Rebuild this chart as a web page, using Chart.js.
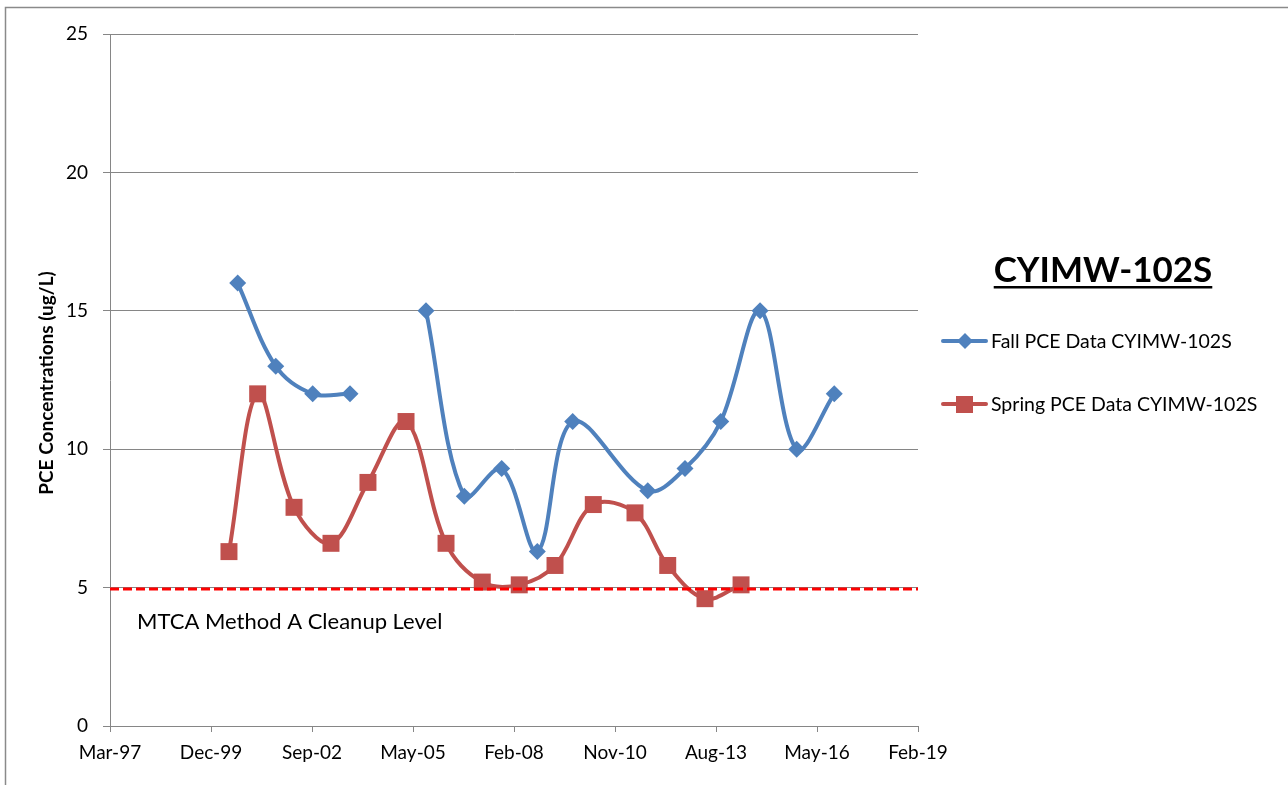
<!DOCTYPE html>
<html>
<head>
<meta charset="utf-8">
<script src="https://cdn.jsdelivr.net/npm/chart.js@4.4.1/dist/chart.umd.min.js"></script>
<style>
html,body{margin:0;padding:0;background:#fff;overflow:hidden;}
#wrap{position:relative;width:1288px;height:785px;}
canvas{display:block;}
</style>
</head>
<body>
<div id="wrap"><canvas id="c" width="1288" height="785"></canvas></div>
<script>
// ---- data ----
const chartTitle = "CYIMW-102S";
const yAxisTitle = "PCE Concentrations (ug/L)";
const cleanupLabel = "MTCA Method A Cleanup Level";
const fallLabel = "Fall PCE Data CYIMW-102S";
const springLabel = "Spring PCE Data CYIMW-102S";

const fallDates = ["2000-08-26","2001-09-07","2002-09-08","2003-09-12","2004-09-15","2005-10-04","2006-10-18","2007-10-23","2008-10-10","2009-09-25","2011-10-08","2012-10-11","2013-09-30","2014-10-24","2015-10-22","2016-10-28"];
const fallValues = [16, 13, 12, 12, null, 15, 8.3, 9.3, 6.3, 11, 8.5, 9.3, 11, 15, 10, 12];

const springDates = ["2000-06-01","2001-03-12","2002-03-07","2003-03-08","2004-03-08","2005-03-20","2006-04-20","2007-04-14","2008-04-14","2009-04-03","2010-04-17","2011-06-04","2012-04-23","2013-04-27","2014-04-19"];
const springValues = [6.3, 12, 7.9, 6.6, 8.8, 11, 6.6, 5.2, 5.1, 5.8, 8.0, 7.7, 5.8, 4.6, 5.1];

const cleanupLevel = 4.95;
const xMin = 35500, xMax = 43500, xStep = 1000; // Excel date serials (Mar-97 .. Feb-19)
const yMin = 0, yMax = 25, yStep = 5;
const monthNames = ["Jan","Feb","Mar","Apr","May","Jun","Jul","Aug","Sep","Oct","Nov","Dec"];

// ---- helpers ----
function toSerial(s){ const p=s.split("-").map(Number); return Date.UTC(p[0],p[1]-1,p[2])/86400000 + 25569; }
function serialLabel(v){ const d=new Date((v-25569)*86400000); return monthNames[d.getUTCMonth()]+"-"+String(d.getUTCFullYear()%100).padStart(2,"0"); }
function pts(dates, vals){ return dates.map((d,i)=>({x:toSerial(d), y:vals[i]})); }

const FONT = "Lato, 'Open Sans', sans-serif";
const BLUE = "#4F81BD", RED = "#C0504D";

const overlay = {
  id:'overlay',
  beforeDraw(chart){
    const ctx = chart.ctx;
    ctx.save();
    ctx.fillStyle="#fff"; ctx.fillRect(0,0,chart.width,chart.height);
    ctx.strokeStyle="#8a8a8a"; ctx.lineWidth=1.5;
    ctx.beginPath(); ctx.moveTo(5.5,chart.height+5); ctx.lineTo(5.5,7.5); ctx.lineTo(chart.width+5,7.5); ctx.stroke();
    ctx.restore();
  },
  afterDraw(chart){
    const ctx = chart.ctx;
    ctx.save();
    // y axis title
    ctx.fillStyle="#000";
    ctx.font = "bold 19px "+FONT;
    ctx.textAlign="center"; ctx.textBaseline="middle";
    ctx.translate(47, 383); ctx.rotate(-Math.PI/2);
    ctx.fillText(yAxisTitle,0,0);
    ctx.setTransform(1,0,0,1,0,0);
    // cleanup annotation
    ctx.font = "22px "+FONT; ctx.textAlign="left"; ctx.textBaseline="alphabetic";
    ctx.fillText(cleanupLabel, 137, 629);
    // chart title
    ctx.font = "bold 35px "+FONT; ctx.textAlign="left";
    const tw = ctx.measureText(chartTitle).width;
    const tx = 1103 - tw/2;
    ctx.fillText(chartTitle, tx, 282);
    ctx.fillRect(tx, 286, tw, 2.5);
    // legend
    const items = [{t:fallLabel,c:BLUE,y:341,shape:'diamond'},{t:springLabel,c:RED,y:404,shape:'square'}];
    ctx.font = "19.5px "+FONT; ctx.textBaseline="middle";
    items.forEach(it=>{
      ctx.strokeStyle=it.c; ctx.lineWidth=4; ctx.lineCap="round";
      ctx.beginPath(); ctx.moveTo(943,it.y); ctx.lineTo(986,it.y); ctx.stroke();
      ctx.fillStyle=it.c;
      ctx.beginPath();
      if(it.shape==='diamond'){ ctx.moveTo(965,it.y-8); ctx.lineTo(973,it.y); ctx.lineTo(965,it.y+8); ctx.lineTo(957,it.y); ctx.closePath(); }
      else { ctx.rect(956,it.y-8,17,17); }
      ctx.fill();
      ctx.fillStyle="#000";
      ctx.fillText(it.t, 991, it.y+1);
    });
    ctx.restore();
  }
};

new Chart(document.getElementById('c'), {
  type:'line',
  data:{
    datasets:[
      {label:fallLabel, data:pts(fallDates,fallValues), borderColor:BLUE, backgroundColor:BLUE, borderWidth:4,
       pointStyle:'rectRot', pointRadius:8.5, pointBorderWidth:0, tension:0.35, spanGaps:false, order:2},
      {label:springLabel, data:pts(springDates,springValues), borderColor:RED, backgroundColor:RED, borderWidth:4,
       pointStyle:'rect', pointRadius:12, pointBorderWidth:0, tension:0.35, order:3},
      {label:cleanupLabel, data:[{x:xMin,y:cleanupLevel},{x:xMax,y:cleanupLevel}], borderColor:"#FF0000", borderWidth:3,
       borderDash:[9,4], pointRadius:0, tension:0, order:1}
    ]
  },
  options:{
    responsive:false, animation:false, devicePixelRatio:1,
    layout:{padding:{left:0,right:370,top:34,bottom:0}},
    plugins:{legend:{display:false}, tooltip:{enabled:false}},
    elements:{line:{capBezierPoints:false}},
    scales:{
      x:{type:'linear', min:xMin, max:xMax,
         afterBuildTicks(s){ const t=[]; for(let v=xMin; v<=xMax; v+=xStep) t.push({value:v}); s.ticks=t; },
         afterFit(s){ s.height=59; },
         ticks:{callback:(v)=>serialLabel(v), font:{family:FONT,size:19}, color:"#000", padding:9, maxRotation:0, autoSkip:false},
         grid:{display:true, drawOnChartArea:false, drawTicks:true, tickLength:6, color:"#868686", lineWidth:1},
         border:{display:true, color:"#868686", width:1}
      },
      y:{min:yMin, max:yMax,
         afterFit(s){ s.width=110; },
         ticks:{stepSize:yStep, font:{family:FONT,size:19}, color:"#000", padding:15},
         grid:{color:"#868686", lineWidth:1, tickLength:7, drawTicks:true},
         border:{display:true, color:"#868686", width:1}
      }
    }
  },
  plugins:[overlay]
});
</script>
</body>
</html>
